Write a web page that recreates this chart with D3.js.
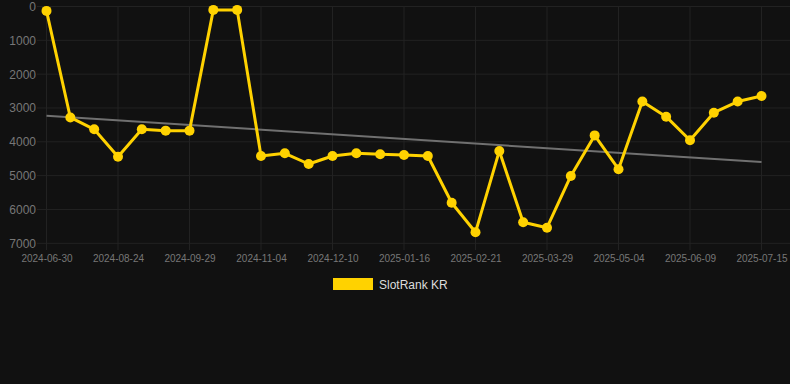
<!DOCTYPE html>
<html>
<head>
<meta charset="utf-8">
<script src="https://cdn.jsdelivr.net/npm/d3@7/dist/d3.min.js"></script>
<style>
  html, body { margin: 0; padding: 0; background: #111111; }
  svg { display: block; font-family: "Liberation Sans", Arial, Helvetica, sans-serif; }
</style>
</head>
<body>
<svg id="chart" width="790" height="384"></svg>
<script>
const categories = [
  "2024-06-30","2024-07-18","2024-08-06","2024-08-24","2024-09-05","2024-09-17",
  "2024-09-29","2024-10-11","2024-10-23","2024-11-04","2024-11-16","2024-11-28",
  "2024-12-10","2024-12-22","2025-01-04","2025-01-16","2025-01-28","2025-02-09",
  "2025-02-21","2025-03-05","2025-03-17","2025-03-29","2025-04-10","2025-04-22",
  "2025-05-04","2025-05-16","2025-05-28","2025-06-09","2025-06-21","2025-07-03",
  "2025-07-15"
];
const rankValues = [
  130, 3280, 3630, 4440, 3630, 3670,
  3670, 100, 100, 4420, 4340, 4656,
  4420, 4340, 4370, 4390, 4420, 5800,
  6675, 4270, 6380, 6540, 5010, 3810,
  4810, 2810, 3257, 3955, 3139, 2810,
  2645
];
const trendValues = [3230, 4600]; // trend line at first and last category
const yTicks = [0, 1000, 2000, 3000, 4000, 5000, 6000, 7000];
const xTickLabels = ["2024-06-30","2024-08-24","2024-09-29","2024-11-04","2024-12-10",
  "2025-01-16","2025-02-21","2025-03-29","2025-05-04","2025-06-09","2025-07-15"];
const seriesName = "SlotRank KR";

const svg = d3.select("#chart");
const gold = "#FFD200";
const gridColor = "#222222";

const x = d3.scalePoint().domain(categories).range([46.5, 761.5]);
const y = d3.scaleLinear().domain([0, 7000]).range([6.5, 243.3]);

// horizontal grid
svg.append("g").selectAll("line").data(yTicks).join("line")
  .attr("x1", 37).attr("x2", 790)
  .attr("y1", d => y(d)).attr("y2", d => y(d))
  .attr("stroke", gridColor).attr("stroke-width", 1);

// vertical grid
svg.append("g").selectAll("line").data(xTickLabels).join("line")
  .attr("x1", d => x(d)).attr("x2", d => x(d))
  .attr("y1", y(0)).attr("y2", 250)
  .attr("stroke", gridColor).attr("stroke-width", 1);

// y axis labels
const yAxis = d3.axisLeft(y).tickValues(yTicks).tickSize(0).tickPadding(0).tickFormat(d3.format("d"));
const gy = svg.append("g").attr("transform", "translate(36,0)").call(yAxis);
gy.select(".domain").remove();
gy.selectAll("text").attr("fill", "#777777").attr("font-size", 12)
  .attr("font-family", "'Liberation Sans', Arial, sans-serif");

// x axis labels
const xAxis = d3.axisBottom(x).tickValues(xTickLabels).tickSize(0).tickPadding(0);
const gx = svg.append("g").attr("transform", "translate(0,255)").call(xAxis);
gx.select(".domain").remove();
gx.selectAll("text").attr("fill", "#777777").attr("font-size", 10)
  .attr("font-family", "'Liberation Sans', Arial, sans-serif");

// trend line
const n = categories.length;
svg.append("line")
  .attr("x1", x(categories[0])).attr("y1", y(trendValues[0]))
  .attr("x2", x(categories[n - 1])).attr("y2", y(trendValues[1]))
  .attr("stroke", "#707070").attr("stroke-width", 2);

// series line
const line = d3.line().x((d, i) => x(categories[i])).y(d => y(d));
svg.append("path").datum(rankValues)
  .attr("d", line).attr("fill", "none")
  .attr("stroke", gold).attr("stroke-width", 3).attr("stroke-linejoin", "round");

svg.append("g").selectAll("circle").data(rankValues).join("circle")
  .attr("cx", (d, i) => x(categories[i])).attr("cy", d => y(d))
  .attr("r", 5).attr("fill", gold);

// legend
const lg = svg.append("g");
lg.append("rect").attr("x", 333).attr("y", 278).attr("width", 40).attr("height", 12).attr("fill", gold);
lg.append("text").attr("x", 379).attr("y", 288.5).text(seriesName)
  .attr("fill", "#dddddd").attr("font-size", 12);
</script>
</body>
</html>
